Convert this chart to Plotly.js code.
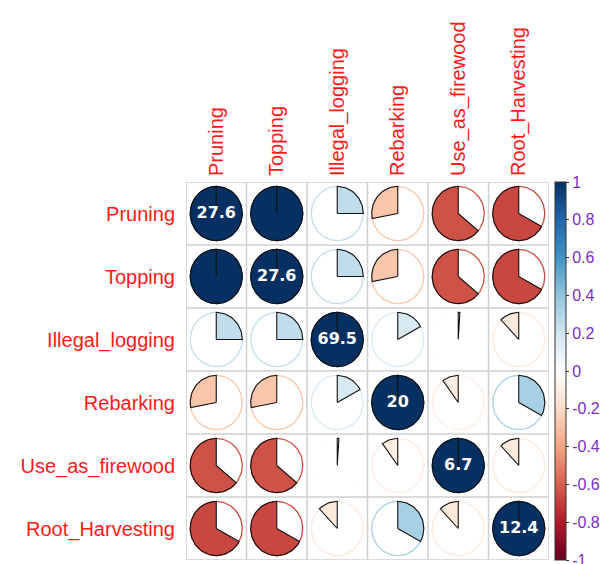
<!DOCTYPE html>
<html>
<head>
<meta charset="utf-8">
<script src="https://cdn.plot.ly/plotly-3.0.1.min.js"></script>
<style>
  html, body { margin: 0; padding: 0; background: #ffffff; }
  #chart { width: 605px; height: 564px; }
</style>
</head>
<body>
<div id="chart"></div>
<script>
// Variable names (rows top to bottom, columns left to right)
const variables = ["Pruning", "Topping", "Illegal_logging", "Rebarking", "Use_as_firewood", "Root_Harvesting"];

// Correlation matrix, one row per variable
const rowPruning        = [ 1.00,  1.00,  0.25, -0.28, -0.64, -0.67];
const rowTopping        = [ 1.00,  1.00,  0.25, -0.28, -0.64, -0.67];
const rowIllegalLogging = [ 0.25,  0.25,  1.00,  0.17,  0.01, -0.12];
const rowRebarking      = [-0.28, -0.28,  0.17,  1.00, -0.10,  0.33];
const rowFirewood       = [-0.64, -0.64,  0.01, -0.10,  1.00, -0.12];
const rowRootHarvesting = [-0.67, -0.67, -0.12,  0.33, -0.12,  1.00];
const corr = [rowPruning, rowTopping, rowIllegalLogging, rowRebarking, rowFirewood, rowRootHarvesting];

// Values printed on the diagonal
const diagLabels = ["27.6", "27.6", "69.5", "20", "6.7", "12.4"];

// Colour bar ticks
const barTicks = [-1, -0.8, -0.6, -0.4, -0.2, 0, 0.2, 0.4, 0.6, 0.8, 1];
const barTickText = ["-1", "-0.8", "-0.6", "-0.4", "-0.2", "0", "0.2", "0.4", "0.6", "0.8", "1"];

// Diverging red-blue palette, -1 .. 1
const palette = ["#67001F", "#B2182B", "#D6604D", "#F4A582", "#FDDBC7", "#FFFFFF",
                 "#D1E5F0", "#92C5DE", "#4393C3", "#2166AC", "#053061"];

function hexToRgb(h) {
  return [parseInt(h.slice(1, 3), 16), parseInt(h.slice(3, 5), 16), parseInt(h.slice(5, 7), 16)];
}
function colourFor(v) {
  const t = (v + 1) / 2 * (palette.length - 1);
  const i = Math.min(Math.floor(t), palette.length - 2);
  const f = t - i;
  const a = hexToRgb(palette[i]), b = hexToRgb(palette[i + 1]);
  const c = a.map((x, k) => Math.round(x + (b[k] - x) * f));
  return "rgb(" + c.join(",") + ")";
}

const n = variables.length;
const R = 0.43;          // pie radius in cell units
const traces = [];

for (let r = 0; r < n; r++) {
  for (let c = 0; c < n; c++) {
    const v = corr[r][c];
    const cx = c + 1, cy = r + 1;
    const col = colourFor(v);

    // full circle outline in the cell colour
    const ox = [], oy = [];
    for (let k = 0; k <= 120; k++) {
      const th = 2 * Math.PI * k / 120;
      ox.push(cx + R * Math.sin(th));
      oy.push(cy - R * Math.cos(th));
    }
    traces.push({
      type: "scatter", mode: "lines", x: ox, y: oy,
      line: { color: col, width: 1.3 }, hoverinfo: "skip", showlegend: false
    });

    // wedge: clockwise from 12 o'clock for positive, anticlockwise for negative
    const sweep = 2 * Math.PI * v;
    const steps = Math.max(2, Math.ceil(Math.abs(v) * 120));
    const wx = [cx], wy = [cy];
    for (let k = 0; k <= steps; k++) {
      const th = sweep * k / steps;
      wx.push(cx + R * Math.sin(th));
      wy.push(cy - R * Math.cos(th));
    }
    wx.push(cx); wy.push(cy);
    traces.push({
      type: "scatter", mode: "lines", x: wx, y: wy,
      fill: "toself", fillcolor: col,
      line: { color: "#111111", width: 1.1 }, hoverinfo: "skip", showlegend: false
    });
  }
}

// labels on the diagonal
traces.push({
  type: "scatter", mode: "text",
  x: variables.map((_, i) => i + 1),
  y: variables.map((_, i) => i + 1),
  text: diagLabels,
  textfont: { family: "DejaVu Sans", size: 16, color: "#ffffff", weight: "bold" },
  textposition: "middle center",
  hoverinfo: "skip", showlegend: false
});

// colour bar carrier
traces.push({
  type: "scatter", mode: "markers",
  x: [1], y: [1],
  marker: {
    size: 1, opacity: 0,
    color: [0], cmin: -1, cmax: 1,
    colorscale: palette.map((p, i) => [i / (palette.length - 1), p]),
    showscale: true,
    colorbar: {
      x: 1.016, xanchor: "left", xref: "paper",
      y: 0.5, yanchor: "middle", len: 1, lenmode: "fraction",
      thickness: 11, thicknessmode: "pixels",
      outlinewidth: 1, outlinecolor: "#333333",
      tickvals: barTicks, ticktext: barTickText,
      ticks: "outside", ticklen: 3, tickcolor: "#333333",
      ticklabeloverflow: "allow",
      tickfont: { family: "Liberation Sans", size: 16, color: "#7b2fbf" },
      ypad: 0, xpad: 0
    }
  },
  hoverinfo: "skip", showlegend: false
});

// cell grid lines
const shapes = [];
for (let k = 0; k <= n; k++) {
  shapes.push({ type: "line", xref: "x", yref: "y", layer: "below",
    x0: k + 0.5, x1: k + 0.5, y0: 0.5, y1: n + 0.5,
    line: { color: "#cfcfcf", width: 1.5 } });
  shapes.push({ type: "line", xref: "x", yref: "y", layer: "below",
    x0: 0.5, x1: n + 0.5, y0: k + 0.5, y1: k + 0.5,
    line: { color: "#cfcfcf", width: 1.5 } });
}

const layout = {
  width: 605, height: 564,
  margin: { l: 186, r: 41, t: 182, b: 4 },
  paper_bgcolor: "#ffffff", plot_bgcolor: "#ffffff",
  showlegend: false,
  font: { family: "Liberation Sans" },
  xaxis: {
    range: [0.5, n + 0.5], side: "top",
    tickvals: variables.map((_, i) => i + 1), ticktext: variables,
    tickangle: -90, ticks: "outside", ticklen: 1, tickcolor: "rgba(0,0,0,0)",
    tickfont: { family: "Liberation Sans", size: 20, color: "#ff1a1a" },
    showgrid: false, zeroline: false, showline: false, fixedrange: true
  },
  yaxis: {
    range: [n + 0.5, 0.5],
    tickvals: variables.map((_, i) => i + 1), ticktext: variables,
    ticks: "outside", ticklen: 6, tickcolor: "rgba(0,0,0,0)",
    tickfont: { family: "Liberation Sans", size: 20, color: "#ff1a1a" },
    showgrid: false, zeroline: false, showline: false, fixedrange: true
  },
  shapes: shapes
};

Plotly.newPlot("chart", traces, layout, { displayModeBar: false, staticPlot: true });
</script>
</body>
</html>
